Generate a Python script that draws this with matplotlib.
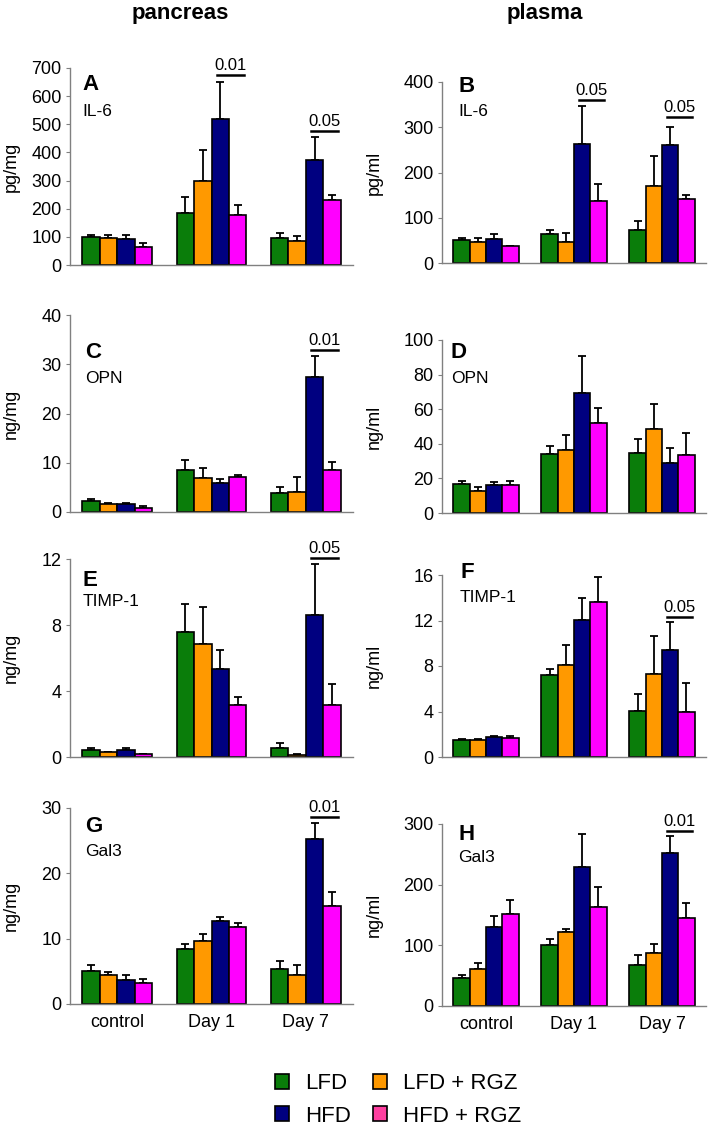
import matplotlib.pyplot as plt
import numpy as np
from matplotlib.patches import Patch

plt.rcParams['font.family'] = ['Liberation Sans', 'DejaVu Sans']

groups = ['control', 'Day 1', 'Day 7']
series = ['LFD', 'LFD + RGZ', 'HFD', 'HFD + RGZ']
colors = ['#0a7d0a', '#ff9900', '#000080', '#ff00ff']
legend_colors = ['#0a7d0a', '#ff9900', '#000080', '#ff3fa0']

# means per group (rows) and series (cols), upper SEM
il6_panc = [[100, 97, 92, 65], [186, 299, 518, 176], [97, 87, 374, 231]]
il6_panc_err = [[8, 11, 16, 13], [54, 110, 131, 38], [17, 17, 80, 18]]
il6_plas = [[50, 47, 54, 37], [63, 47, 262, 138], [72, 170, 260, 142]]
il6_plas_err = [[6, 9, 9, 0], [11, 20, 86, 36], [21, 66, 41, 9]]
opn_panc = [[2.3, 1.6, 1.6, 0.9], [8.6, 6.9, 5.9, 7.1], [3.9, 4.1, 27.4, 8.5]]
opn_panc_err = [[0.3, 0.2, 0.2, 0.25], [1.9, 2.0, 0.9, 0.4], [1.2, 3.1, 4.2, 1.7]]
opn_plas = [[16.9, 12.9, 16.0, 16.0], [34.0, 36.2, 69.2, 51.9], [34.6, 48.5, 29.0, 33.3]]
opn_plas_err = [[1.8, 2.3, 2.1, 2.7], [5.0, 8.8, 21.4, 8.7], [8.3, 14.4, 8.3, 12.9]]
timp_panc = [[0.45, 0.33, 0.43, 0.2], [7.55, 6.82, 5.36, 3.14], [0.55, 0.12, 8.58, 3.14]]
timp_panc_err = [[0.1, 0.0, 0.1, 0.0], [1.72, 2.25, 1.14, 0.49], [0.32, 0.06, 3.12, 1.3]]
timp_plas = [[1.52, 1.5, 1.75, 1.64], [7.19, 8.1, 12.05, 13.65], [4.06, 7.31, 9.44, 3.98]]
timp_plas_err = [[0.08, 0.08, 0.12, 0.2], [0.56, 1.75, 1.9, 2.15], [1.5, 3.29, 2.4, 2.51]]
gal3_panc = [[4.98, 4.42, 3.71, 3.15], [8.49, 9.71, 12.76, 11.85], [5.39, 4.42, 25.3, 15.0]]
gal3_panc_err = [[0.97, 0.51, 0.71, 0.71], [0.76, 1.02, 0.51, 0.5], [1.22, 1.53, 2.46, 2.18]]
gal3_plas = [[45.6, 61, 130.8, 151.6], [100, 121.4, 229.7, 163.7], [68.1, 86.8, 251.6, 145]]
gal3_plas_err = [[5.4, 9.9, 18.1, 22.4], [10, 6.1, 53.8, 33], [16.5, 14.8, 29.2, 24.2]]

# significance bars: (group index, y of line, p value)
sig_a = [(1, 676, '0.01'), (2, 477, '0.05')]
sig_b = [(1, 361, '0.05'), (2, 323, '0.05')]
sig_c = [(2, 32.8, '0.01')]
sig_d = []
sig_e = [(2, 12.07, '0.05')]
sig_f = [(2, 12.34, '0.05')]
sig_g = [(2, 28.6, '0.01')]
sig_h = [(2, 289, '0.01')]

panels = [
    ('A', 'IL-6', 'pg/mg', il6_panc, il6_panc_err, 700, 100, sig_a),
    ('B', 'IL-6', 'pg/ml', il6_plas, il6_plas_err, 400, 100, sig_b),
    ('C', 'OPN', 'ng/mg', opn_panc, opn_panc_err, 40, 10, sig_c),
    ('D', 'OPN', 'ng/ml', opn_plas, opn_plas_err, 100, 20, sig_d),
    ('E', 'TIMP-1', 'ng/mg', timp_panc, timp_panc_err, 12, 4, sig_e),
    ('F', 'TIMP-1', 'ng/ml', timp_plas, timp_plas_err, 16, 4, sig_f),
    ('G', 'Gal3', 'ng/mg', gal3_panc, gal3_panc_err, 30, 10, sig_g),
    ('H', 'Gal3', 'ng/ml', gal3_plas, gal3_plas_err, 300, 100, sig_h),
]

W, H = 712, 1126
fig = plt.figure(figsize=(W / 100, H / 100), dpi=100)

# axes boxes in pixels: x0, x1 per column; ytop, ybottom per panel
cols = [(70, 353), (442, 706)]
rows = [(68, 265), (82, 263), (315, 512), (340, 513),
        (559, 757), (575, 757), (808, 1004), (824, 1006)]
# letter / name positions in pixels (x, y letter, y name)
marks = [(82, 85, 112), (458, 87, 112), (85, 353, 379), (451, 352, 379),
         (83, 580, 602), (460, 573, 597), (85, 827, 852), (458, 834, 857)]

w = 0.185
grey = '#808080'
for k, (letter, name, unit, means, errs, ymax, ystep, sig) in enumerate(panels):
    x0, x1 = cols[k % 2]
    yt, yb = rows[k]
    ax = fig.add_axes([x0 / W, 1 - yb / H, (x1 - x0) / W, (yb - yt) / H])
    means = np.array(means)
    errs = np.array(errs)
    gx = np.arange(len(groups))
    for i in range(len(series)):
        xs = gx + (i - 1.5) * w
        ax.bar(xs, means[:, i], width=w, color=colors[i], edgecolor='black',
               linewidth=1.2, zorder=2)
        ax.errorbar(xs, means[:, i], yerr=[np.zeros(3), errs[:, i]], fmt='none',
                    ecolor='black', elinewidth=1.3, capsize=3, capthick=1.3, zorder=1)
    for g, yv, p in sig:
        xa = g + 0.5 * w - 0.2 * w
        xb = g + 1.5 * w + 0.35 * w
        ax.plot([xa, xb], [yv, yv], color='black', lw=1.8, clip_on=False)
        ax.annotate(p, ((xa + xb) / 2, yv), xytext=(0, 1.5), textcoords='offset points',
                    ha='center', va='bottom', fontsize=12, annotation_clip=False)
    ax.set_xlim(-0.5, 2.5)
    ax.set_ylim(0, ymax)
    ax.set_yticks(np.arange(0, ymax + ystep / 2, ystep))
    for s in ['top', 'right']:
        ax.spines[s].set_visible(False)
    for s in ['left', 'bottom']:
        ax.spines[s].set_color(grey)
        ax.spines[s].set_linewidth(1)
    ax.tick_params(axis='y', direction='out', length=3, color=grey, labelsize=13, pad=3)
    if k >= 6:
        ax.set_xticks(gx)
        ax.set_xticklabels(groups)
        ax.tick_params(axis='x', length=0, labelsize=13, pad=7)
    else:
        ax.set_xticks([])
    ax.set_ylabel(unit, fontsize=13)
    ax.yaxis.set_label_coords(-0.177 if k % 2 == 0 else -0.225, 0.5)
    lx, ly, ny = marks[k]
    fig.text(lx / W, 1 - ly / H, letter, fontsize=16, fontweight='bold', va='center')
    fig.text(lx / W, 1 - ny / H, name, fontsize=12.5, va='center')

fig.text(180 / W, 1 - 14 / H, 'pancreas', fontsize=16, fontweight='bold', ha='center', va='center')
fig.text(545 / W, 1 - 14 / H, 'plasma', fontsize=16, fontweight='bold', ha='center', va='center')

handles = [Patch(facecolor=legend_colors[i], edgecolor='black', linewidth=1.2, label=series[i])
           for i in [0, 2, 1, 3]]
fig.legend(handles=handles, ncol=2, loc='center', bbox_to_anchor=(398 / W, 1 - 1100 / H),
           frameon=False, fontsize=16, handlelength=0.65, handleheight=0.65,
           handletextpad=0.7, columnspacing=1.0, labelspacing=0.5)

fig.savefig('out.png', dpi=100)
